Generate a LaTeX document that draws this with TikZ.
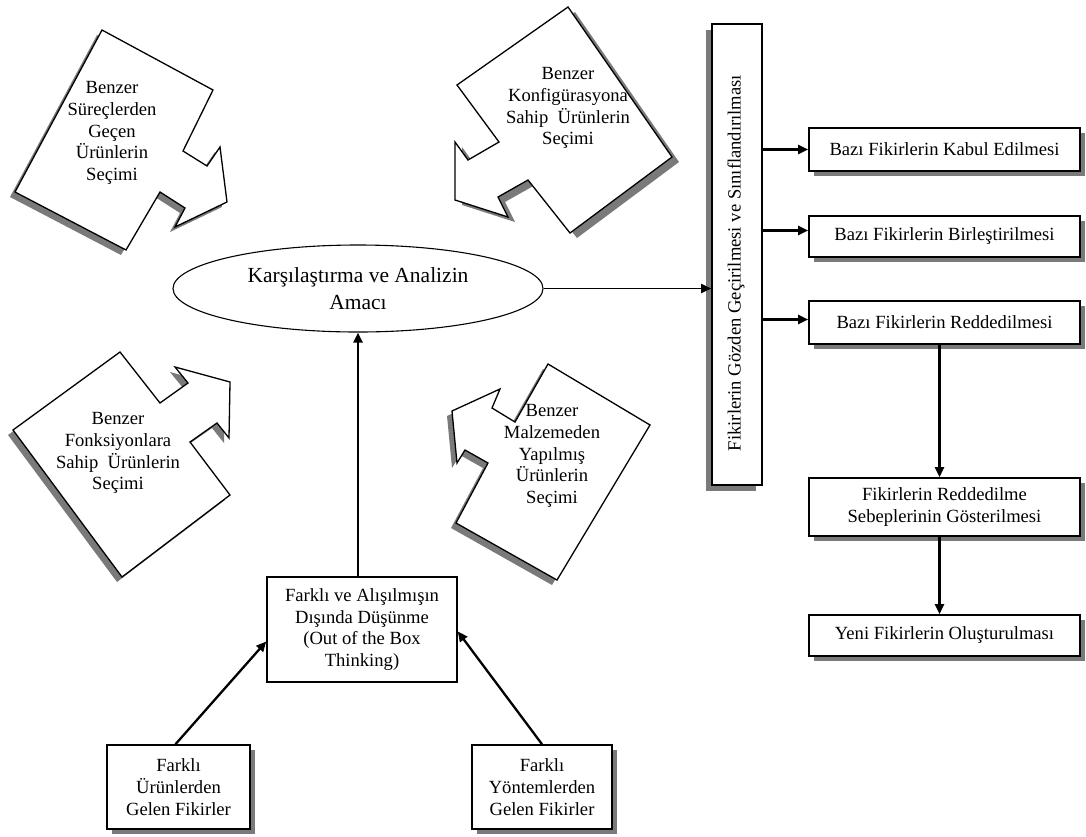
\documentclass[tikz,border=0pt]{standalone}
\usepackage{fontspec}
\setmainfont{Liberation Serif}
\usetikzlibrary{arrows.meta,shapes.geometric,shadows}
\begin{document}
\begin{tikzpicture}[x=1pt,y=-1pt,
  every node/.style={font=\fontsize{18.6}{21.8}\selectfont, align=center, inner sep=0pt},
  framebox/.style={draw, line width=1.6pt, fill=white},
  shadowed/.style={drop shadow={shadow xshift=5pt, shadow yshift=-5pt, fill=black!52, opacity=1}},
  arr/.style={line width=2.3pt, -{Triangle[length=10pt,width=9pt]}},
  callout/.style={draw, line width=1.3pt, fill=white, line join=miter},
  calloutshadow/.style={fill=black!52},
  % outlines of the four arrow callouts
  shapeA/.style={insert path={(102,30) -- (213,90) -- (183,151) -- (207,166) -- (220,147) -- (227,202)
      -- (175,227) -- (185,208) -- (160,192) -- (126,250) -- (15,192) -- cycle}},
  shapeB/.style={insert path={(568,7) -- (672,157) -- (570,233) -- (528,180) -- (498,197) -- (508,217)
      -- (455,200) -- (455,142) -- (468,160) -- (499,142) -- (457,85) -- cycle}},
  shapeC/.style={insert path={(120,352) -- (160,403) -- (188,383) -- (175,367) -- (230,382) -- (229,438)
      -- (217,423) -- (190,442) -- (230,495) -- (122,577) -- (13,430) -- cycle}},
  shapeD/.style={insert path={(548,364) -- (650,425) -- (557,580) -- (456,523) -- (488,463) -- (465,450)
      -- (457,463) -- (452,411) -- (500,389) -- (492,408) -- (515,422) -- cycle}},
]
\useasboundingbox (0,0) rectangle (1086,836);

% arrow callouts with their shadows
\path[calloutshadow, shift={(-5,5)}, shapeA];
\path[callout, shapeA];
\path[calloutshadow, shift={(7,5)}, shapeB];
\path[callout, shapeB];
\path[calloutshadow, shift={(-5,5)}, shapeC];
\path[callout, shapeC];
\path[calloutshadow, shift={(-5,5)}, shapeD];
\path[callout, shapeD];

\node (s1) at (112,133) {Benzer\\Süreçlerden\\Geçen\\Ürünlerin\\Seçimi};
\node (s2) at (568,108) {Benzer\\Konfigürasyona\\Sahip~~Ürünlerin\\Seçimi};
\node (s3) at (118,453) {Benzer\\Fonksiyonlara\\Sahip~~Ürünlerin\\Seçimi};
\node (s4) at (552,456) {Benzer\\Malzemeden\\Yapılmış\\Ürünlerin\\Seçimi};

% central goal
\node[draw, ellipse, line width=1.1pt, minimum width=370pt, minimum height=87pt,
      font=\fontsize{21.5}{26.5}\selectfont] (el) at (358,288.5) {Karşılaştırma ve Analizin\\Amacı};

% review column
\node[framebox, minimum width=50pt, minimum height=461pt,
      drop shadow={shadow xshift=-6pt, shadow yshift=-6pt, fill=black!52, opacity=1}] (vb) at (737,254.5) {};
\node[rotate=90] (vbt) at (736,263) {Fikirlerin Gözden Geçirilmesi ve Sınıflandırılması};

% outcomes
\node[framebox, shadowed, minimum width=271pt, minimum height=43pt] (k1) at (944.5,149.5) {Bazı Fikirlerin Kabul Edilmesi};
\node[framebox, shadowed, minimum width=271pt, minimum height=41pt] (k2) at (944.5,236.5) {Bazı Fikirlerin Birleştirilmesi};
\node[framebox, shadowed, minimum width=271pt, minimum height=43pt] (k3) at (944.5,322.5) {Bazı Fikirlerin Reddedilmesi};
\node[framebox, shadowed, minimum width=271pt, minimum height=58pt] (k4) at (944.5,507) {Fikirlerin Reddedilme\\Sebeplerinin Gösterilmesi};
\node[framebox, shadowed, minimum width=271pt, minimum height=41pt] (k5) at (944.5,635.5) {Yeni Fikirlerin Oluşturulması};

% idea sources
\node[framebox, minimum width=190pt, minimum height=105pt] (ob) at (362,629.5) {Farklı ve Alışılmışın\\Dışında Düşünme\\(Out of the Box\\Thinking)};
\node[framebox, shadowed, minimum width=143pt, minimum height=84pt] (bl) at (178.5,787) {Farklı\\Ürünlerden\\Gelen Fikirler};
\node[framebox, shadowed, minimum width=140pt, minimum height=84pt] (br) at (542,787) {Farklı\\Yöntemlerden\\Gelen Fikirler};

% connectors
\draw[arr, line width=1.8pt] (el.east) -- (el.east -| vb.west);
\draw[arr] (vb.east |- k1.west) -- (k1.west);
\draw[arr] ([yshift=6pt]vb.east |- k2.west) -- ([yshift=6pt]k2.west);
\draw[arr] ([yshift=3pt]vb.east |- k3.west) -- ([yshift=3pt]k3.west);
\draw[arr] ([xshift=-5pt]k3.south) -- ([xshift=-5pt]k4.north);
\draw[arr] ([xshift=-5pt]k4.south) -- ([xshift=-5pt]k5.north);
\draw[arr, line width=2.7pt] (ob.north -| el.south) -- (el.south);
\draw[arr] ([xshift=-3pt]bl.north) -- ([yshift=-12pt]ob.west);
\draw[arr] (br.north) -- ([yshift=-2pt]ob.east);
\end{tikzpicture}
\end{document}
